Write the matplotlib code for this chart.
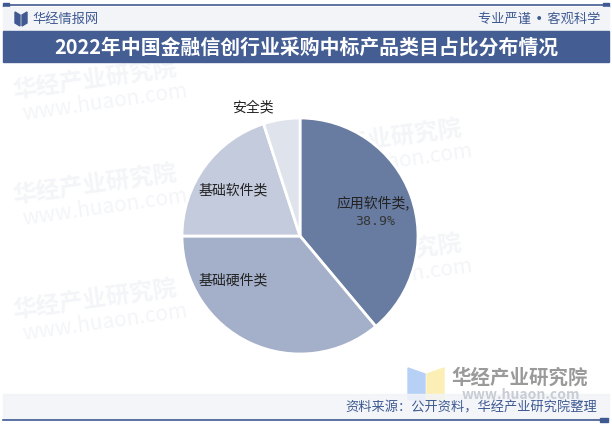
import matplotlib.pyplot as plt
import matplotlib.patches as mpatches
import numpy as np

plt.rcParams['font.family'] = ['Noto Sans CJK SC', 'DejaVu Sans']

categories = ["应用软件类", "基础硬件类", "基础软件类", "安全类"]
shares = [38.9, 36.1, 20.0, 5.0]
colors = ["#687ca1", "#a4b0c9", "#c4cbdc", "#dfe3ec"]

title = "2022年中国金融信创行业采购中标产品类目占比分布情况"
source = "资料来源：公开资料，华经产业研究院整理"

W, H = 612, 425
fig = plt.figure(figsize=(W / 100, H / 100), dpi=100)
fig.patch.set_facecolor("white")

# background layer in pixel coordinates
bg = fig.add_axes([0, 0, 1, 1])
bg.set_xlim(0, W)
bg.set_ylim(H, 0)
bg.axis("off")

navy = "#3f5a92"
# top line with end squares
bg.plot([6, 606], [5, 5], color=navy, lw=1.2)
bg.add_patch(mpatches.Rectangle((3, 3), 6, 4, color=navy))
bg.add_patch(mpatches.Rectangle((603, 3), 6, 4, color=navy))
# header band
bg.add_patch(mpatches.Rectangle((3, 7), 606, 24, color="#f2f4f8"))
bg.add_patch(mpatches.Polygon([[15, 12], [20, 15], [20, 26], [15, 23]], color=navy))
bg.add_patch(mpatches.Polygon([[22, 15], [27, 12], [27, 23], [22, 26]], color=navy))
bg.text(32, 19, "华经情报网", fontsize=9.5, color="#3f5a92", va="center")
bg.text(600, 19, "专业严谨 • 客观科学", fontsize=9.5, color="#3f5a92", va="center", ha="right",
        family=["DejaVu Sans", "Noto Sans CJK SC"])
# title band
bg.add_patch(mpatches.Rectangle((3, 31), 606, 31, color="#445e94"))
bg.text(306, 47, title, fontsize=14.3, color="white", fontweight="bold", ha="center", va="center")

# watermarks
wm = "#f4f5f8"
for x, y in [(95, 80), (95, 185), (95, 300), (380, 140), (380, 255)]:
    bg.text(x, y, "华经产业研究院", fontsize=17, color=wm, fontweight="bold",
            ha="center", va="center", rotation=8, zorder=0)
    bg.text(x + 10, y + 22, "www.huaon.com", fontsize=15, color=wm,
            ha="center", va="center", rotation=8, zorder=0)

# footer logo
bg.add_patch(mpatches.Polygon([[408, 368], [425, 374], [425, 405], [408, 399]], color="#b7d0f5"))
bg.add_patch(mpatches.Polygon([[427, 374], [444, 368], [444, 399], [427, 405]], color="#fbefb6"))
bg.text(520, 378, "华经产业研究院", fontsize=14, color="#9a9a9a", fontweight="bold",
        ha="center", va="center")
bg.text(521, 395, "www.huaon.com", fontsize=10, color="#c8ccd4", fontweight="bold",
        ha="center", va="center")
# footer band
bg.add_patch(mpatches.Rectangle((3, 394), 606, 25, color="#f2f4f8", alpha=0.85))
bg.text(597, 408, source, fontsize=9.5, color="#3f5a92", ha="right", va="center")
bg.plot([3, 600], [420, 420], color=navy, lw=1.2)
bg.add_patch(mpatches.Rectangle((600, 418), 8, 4, color=navy))

# pie
cx, cy, r = 300, 236, 118
ax = fig.add_axes([(cx - r) / W, (H - cy - r) / H, 2 * r / W, 2 * r / H])
ax.pie(shares, colors=colors, startangle=90, counterclock=False, radius=1,
       wedgeprops=dict(edgecolor="white", linewidth=2))
ax.set_xlim(-1, 1)
ax.set_ylim(-1, 1)
ax.axis("off")

lbl = "#222222"
ax.text(0.62, 0.28, categories[0] + ",", fontsize=10, color=lbl, ha="center", va="center")
ax.text(0.64, 0.12, f"{shares[0]}%", fontsize=9.5, color="#333333", ha="center", va="center",
        family="DejaVu Sans Mono")
ax.text(-0.57, -0.38, categories[1], fontsize=10, color=lbl, ha="center", va="center")
ax.text(-0.57, 0.39, categories[2], fontsize=10, color=lbl, ha="center", va="center")
ax.text(-0.40, 1.09, categories[3], fontsize=10, color=lbl, ha="center", va="center", clip_on=False)

fig.savefig("out.png", dpi=100, facecolor="white")
